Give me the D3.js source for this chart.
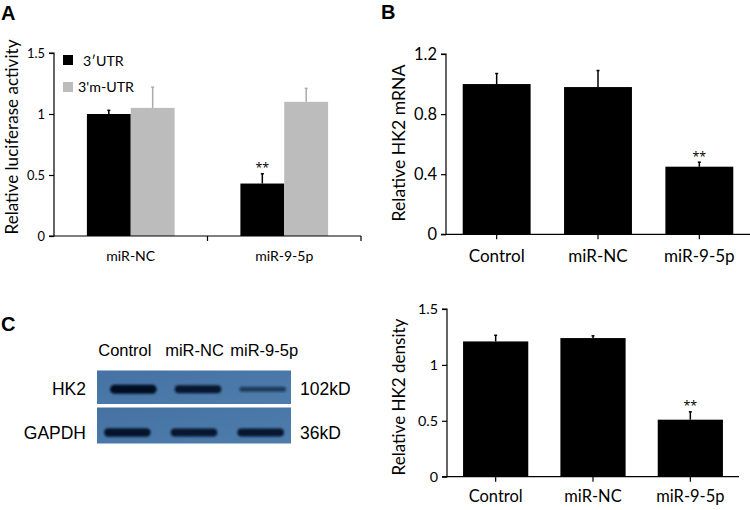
<!DOCTYPE html>
<html><head><meta charset="utf-8">
<script src="https://d3js.org/d3.v7.min.js"></script>
<style>body{margin:0;background:#fff}svg{display:block}</style>
</head><body>
<svg id="c" width="750" height="510"></svg>
<script>
// ---- Panel A data ----
const aCategories = ["miR-NC", "miR-9-5p"];
const aSeries = ["3\u2032UTR", "3'm-UTR"];
const aUTR = [1.0, 0.43];
const aUTRerr = [0.03, 0.08];
const aMUTR = [1.05, 1.10];
const aMUTRerr = [0.17, 0.11];
const aTicks = [0, 0.5, 1, 1.5];
const aSig = ["", "**"];
// ---- Panel B data ----
const bCategories = ["Control", "miR-NC", "miR-9-5p"];
const bValues = [1.0, 0.98, 0.45];
const bErr = [0.07, 0.11, 0.03];
const bTicks = [0, 0.4, 0.8, 1.2];
const bSig = ["", "", "**"];
// ---- Panel C data ----
const cCategories = ["Control", "miR-NC", "miR-9-5p"];
const cValues = [1.21, 1.24, 0.51];
const cErr = [0.055, 0.02, 0.07];
const cTicks = [0, 0.5, 1, 1.5];
const cSig = ["", "", "**"];
// ---- Western blot ----
const blotLanes = ["Control", "miR-NC", "miR-9-5p"];
const blotRows = ["HK2", "GAPDH"];
const blotSizes = ["102kD", "36kD"];
const hk2Intensity = [1.0, 0.85, 0.35];
const gapdhIntensity = [0.9, 0.85, 0.85];

const svg = d3.select("#c");
svg.append("rect").attr("width", 750).attr("height", 510).attr("fill", "#fff");
const tickFont = "Lato, 'Open Sans', sans-serif";
const arial = "'Liberation Sans', Arial, sans-serif";

// scale a group of texts so that a sample text reaches a target width
function fit(sel, sampleNode, target) {
  const w = sampleNode.getComputedTextLength();
  const fs = parseFloat(sampleNode.getAttribute("font-size"));
  sel.attr("font-size", (fs * target / w).toFixed(2));
}

function panelLetter(t, x, y) {
  svg.append("text").attr("x", x).attr("y", y).text(t)
    .attr("font-family", arial).attr("font-weight", "bold").attr("font-size", 20).attr("fill", "#000");
}

function yAxis(g, y, ticks, x0, targetW) {
  const ax = d3.axisLeft(y).tickValues(ticks).tickSize(5).tickPadding(4)
    .tickFormat(d => d === 0 ? "0" : String(d));
  const gg = g.append("g").attr("transform", `translate(${x0},0)`).call(ax);
  gg.select(".domain").attr("stroke", "#000").attr("stroke-width", 1.2).attr("d", `M-5,${y(ticks[0])}H0V${y(ticks[ticks.length-1])}H-5`);
  gg.selectAll(".tick line").attr("stroke", "#000").attr("stroke-width", 1.2);
  const tx = gg.selectAll(".tick text").attr("font-family", tickFont).attr("font-size", 14).attr("fill", "#000");
  fit(tx, tx.nodes()[tx.size() - 1], targetW);
  return gg;
}

function errBar(g, x, yTop, yBase, color) {
  g.append("line").attr("x1", x).attr("x2", x).attr("y1", yBase).attr("y2", yTop)
    .attr("stroke", color).attr("stroke-width", 1.5);
  g.append("line").attr("x1", x - 1.5).attr("x2", x + 1.5).attr("y1", yTop).attr("y2", yTop)
    .attr("stroke", color).attr("stroke-width", 1.5);
}

function star(g, x, yTop, s) {
  g.append("text").attr("x", x).attr("y", yTop - 1.5)
    .attr("text-anchor", "middle").attr("font-family", "'Open Sans', sans-serif").attr("font-size", 12.5).text(s);
}

// ================= Panel A =================
(function () {
  panelLetter("A", 1, 20);
  const g = svg.append("g");
  const x0 = d3.scaleBand().domain(aCategories).range([54, 361]).padding(0);
  const x1 = d3.scaleBand().domain(aSeries).range([0, x0.bandwidth()]).paddingInner(0).paddingOuter(0.75);
  const y = d3.scaleLinear().domain([0, 1.5]).range([236, 53]);
  const colors = ["#000", "#bcbcbc"];
  const errColors = ["#000", "#ababab"];
  const vals = [aUTR, aMUTR], errs = [aUTRerr, aMUTRerr];
  aSeries.forEach((s, si) => {
    aCategories.forEach((c, ci) => {
      const xb = x0(c) + x1(s);
      g.append("rect").attr("x", xb).attr("y", y(vals[si][ci])).attr("width", x1.bandwidth())
        .attr("height", y(0) - y(vals[si][ci])).attr("fill", colors[si]);
      errBar(g, xb + x1.bandwidth() / 2, y(vals[si][ci] + errs[si][ci]), y(vals[si][ci]), errColors[si]);
      if (si === 0 && aSig[ci]) star(g, xb + x1.bandwidth() / 2, y(vals[si][ci] + errs[si][ci]), aSig[ci]);
    });
  });
  yAxis(g, y, aTicks, 54, 18);
  g.append("line").attr("x1", 54).attr("x2", 361).attr("y1", y(0)).attr("y2", y(0)).attr("stroke", "#000").attr("stroke-width", 1.2);
  const bounds = aCategories.map(c => x0(c)).concat([x0.range()[1]]);
  bounds.slice(1).forEach(b => g.append("line").attr("x1", b).attr("x2", b).attr("y1", y(0)).attr("y2", y(0) + 5).attr("stroke", "#000").attr("stroke-width", 1.2));
  const cl = g.selectAll(".catA").data(aCategories).enter().append("text").attr("class", "catA")
    .attr("x", c => x0(c) + x0.bandwidth() / 2).attr("y", 261)
    .attr("text-anchor", "middle").attr("font-family", tickFont).attr("font-size", 14).text(c => c);
  fit(cl, cl.nodes()[0], 49);
  // legend
  const lt = [];
  aSeries.forEach((s, i) => {
    g.append("rect").attr("x", 63).attr("y", 55 + i * 27).attr("width", 10).attr("height", 10).attr("fill", colors[i]);
    lt.push(g.append("text").attr("x", i === 0 ? 83 : 78).attr("y", 65.5 + i * 26.5).attr("font-family", tickFont).attr("font-size", 14).text(s).node());
  });
  fit(d3.selectAll(lt), lt[1], 56);
  const yl = g.append("text").attr("transform", "translate(11,137) rotate(-90)").attr("text-anchor", "middle")
    .attr("dominant-baseline", "central").attr("font-family", tickFont).attr("font-size", 16).text("Relative luciferase activity");
  fit(yl, yl.node(), 195);
})();

// ================= simple bar panel =================
function simpleBars(opts) {
  const g = svg.append("g");
  const x = d3.scaleBand().domain(opts.cats).range([opts.x0, opts.x1]).paddingInner(0.33).paddingOuter(0.165);
  const y = d3.scaleLinear().domain([0, opts.max]).range([opts.y0, opts.yTop]);
  opts.vals.forEach((v, i) => {
    const c = opts.cats[i];
    g.append("rect").attr("x", x(c)).attr("y", y(v)).attr("width", x.bandwidth()).attr("height", y(0) - y(v)).attr("fill", "#000");
    errBar(g, x(c) + x.bandwidth() / 2, y(v + opts.err[i]), y(v), "#000");
    if (opts.sig[i]) star(g, x(c) + x.bandwidth() / 2, y(v + opts.err[i]), opts.sig[i]);
  });
  yAxis(g, y, opts.ticks, opts.x0, opts.tickW);
  const xa = d3.axisBottom(x).tickSize(5).tickFormat("");
  const gx = g.append("g").attr("transform", `translate(0,${opts.y0})`).call(xa);
  gx.select(".domain").attr("stroke", "#000").attr("stroke-width", 1.2).attr("d", `M${opts.x0},0H${opts.x1}`);
  gx.selectAll(".tick line").attr("stroke", "#000").attr("stroke-width", 1.2);
  const cl = g.selectAll(".cat").data(opts.cats).enter().append("text").attr("class", "cat")
    .attr("x", c => x(c) + x.bandwidth() / 2).attr("y", opts.y0 + opts.labDy)
    .attr("text-anchor", "middle").attr("font-family", tickFont).attr("font-size", 16).text(c => c);
  fit(cl, cl.nodes()[0], opts.catW);
  const yl = g.append("text").attr("transform", `translate(${opts.lx},${opts.ly}) rotate(-90)`).attr("text-anchor", "middle")
    .attr("dominant-baseline", "central").attr("font-family", tickFont).attr("font-size", 16).text(opts.label);
  fit(yl, yl.node(), opts.labW);
}

panelLetter("B", 381, 19);
simpleBars({cats: bCategories, vals: bValues, err: bErr, sig: bSig, ticks: bTicks, max: 1.2,
  x0: 446, x1: 750, y0: 234.3, yTop: 54, tickW: 23, catW: 56, labDy: 28, lx: 398, ly: 143, labW: 157, label: "Relative HK2 mRNA"});
simpleBars({cats: cCategories, vals: cValues, err: cErr, sig: cSig, ticks: cTicks, max: 1.5,
  x0: 447, x1: 739, y0: 476.7, yTop: 309, tickW: 20, catW: 54, labDy: 25, lx: 398.5, ly: 397, labW: 157, label: "Relative HK2 density"});

// ================= Panel C: western blot =================
(function () {
  panelLetter("C", 1, 331);
  const g = svg.append("g");
  const defs = svg.append("defs");
  defs.append("filter").attr("id", "blur").attr("x", "-20%").attr("y", "-100%").attr("width", "140%").attr("height", "300%")
    .append("feGaussianBlur").attr("stdDeviation", 1.3);
  const grad = defs.append("linearGradient").attr("id", "bg").attr("x1", 0).attr("x2", 1).attr("y1", 0).attr("y2", 1);
  grad.append("stop").attr("offset", 0).attr("stop-color", "#4572a3");
  grad.append("stop").attr("offset", 1).attr("stop-color", "#4e7dac");
  const lane = d3.scaleBand().domain(blotLanes).range([97, 291]);
  const labelX = d3.scaleBand().domain(blotLanes).range([90, 299]);
  const rows = d3.scaleOrdinal().domain(blotRows).range([[370.5, 404], [407.5, 443.5]]);
  blotLanes.forEach(l => g.append("text").attr("x", labelX(l) + labelX.bandwidth() / 2).attr("y", 356)
    .attr("text-anchor", "middle").attr("font-family", arial).attr("font-size", 16.5).text(l));
  const intens = [hk2Intensity, gapdhIntensity];
  blotRows.forEach((r, ri) => {
    const [yt, yb] = rows(r);
    g.append("rect").attr("x", 97).attr("y", yt).attr("width", 194).attr("height", yb - yt).attr("fill", "url(#bg)");
    const cy = (yt + yb) / 2 + (ri === 0 ? 2 : 7);
    blotLanes.forEach((l, li) => {
      const v = intens[ri][li];
      const cx = lane(l) + lane.bandwidth() / 2 + (ri === 0 ? 4 : (li - 1) * 2);
      const w = lane.bandwidth() * 0.72;
      const h = 3 + 6 * v;
      g.append("rect").attr("x", cx - w / 2).attr("y", cy - h / 2).attr("width", w).attr("height", h)
        .attr("rx", h / 2).attr("ry", h / 2)
        .attr("fill", "#040d20").attr("opacity", 0.35 + 0.65 * v).attr("filter", "url(#blur)");
    });
    g.append("text").attr("x", 86).attr("y", cy + 6).attr("text-anchor", "end")
      .attr("font-family", arial).attr("font-size", 17.5).text(r);
    g.append("text").attr("x", 300).attr("y", cy + 6)
      .attr("font-family", arial).attr("font-size", 17.5).text(blotSizes[ri]);
  });
})();
</script>
</body></html>
